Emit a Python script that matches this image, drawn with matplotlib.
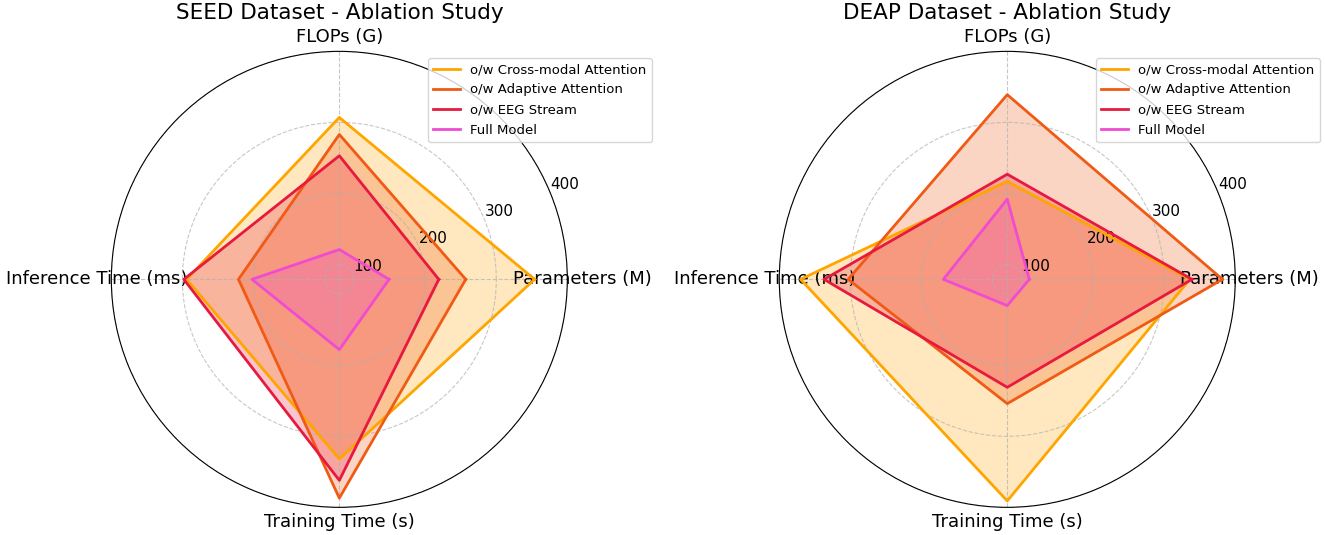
"""
Ablation study radar charts (SEED / DEAP): compute cost per model variant.
"""
import numpy as np
import matplotlib
matplotlib.use("Agg")
import matplotlib.pyplot as plt

categories = ["Parameters (M)", "FLOPs (G)", "Inference Time (ms)", "Training Time (s)"]
variants = ["o/w Cross-modal Attention", "o/w Adaptive Attention", "o/w EEG Stream", "Full Model"]
colors = ["#FFA500", "#F05A14", "#E8193F", "#F04CD2"]

# values in category order: Params, FLOPs, Inference, Training
seed_cross = [354, 307, 294, 332]
seed_adaptive = [257, 283, 221, 387]
seed_eeg = [219, 253, 298, 362]
seed_full = [149, 121, 202, 178]

deap_cross = [336, 217, 370, 391]
deap_adaptive = [382, 339, 303, 254]
deap_eeg = [339, 227, 337, 231]
deap_full = [110, 192, 169, 116]

r_ticks = [100, 200, 300, 400]


def radar(ax, series, title):
    angles = np.linspace(0, 2 * np.pi, len(categories), endpoint=False).tolist()
    angles += angles[:1]
    for vals, name, c in zip(series, variants, colors):
        v = list(vals) + vals[:1]
        ax.plot(angles, v, color=c, lw=2, label=name)
        ax.fill(angles, v, color=c, alpha=0.25)
    ax.set_xticks(angles[:-1])
    ax.set_xticklabels(categories, fontsize=13)
    ax.tick_params(axis="x", pad=0)
    ax.set_yticks(r_ticks)
    ax.set_yticklabels([str(t) for t in r_ticks], fontsize=11)
    ax.set_ylim(79, 400)
    ax.grid(True, linestyle="--", color="#b0b0b0", alpha=0.7, lw=0.8)
    ax.set_title(title, fontsize=15.5)
    ax.legend(loc="upper right", bbox_to_anchor=(1.2, 1.0), fontsize=9.5,
              labelspacing=0.55)


fig = plt.figure(figsize=(13.25, 5.35), dpi=100)
ax1 = fig.add_axes([0.0840, 0.0517, 0.3442, 0.8523], projection="polar")
ax2 = fig.add_axes([0.5881, 0.0517, 0.3442, 0.8523], projection="polar")

radar(ax1, [seed_cross, seed_adaptive, seed_eeg, seed_full], "SEED Dataset - Ablation Study")
radar(ax2, [deap_cross, deap_adaptive, deap_eeg, deap_full], "DEAP Dataset - Ablation Study")

fig.savefig("out.png", dpi=100)
